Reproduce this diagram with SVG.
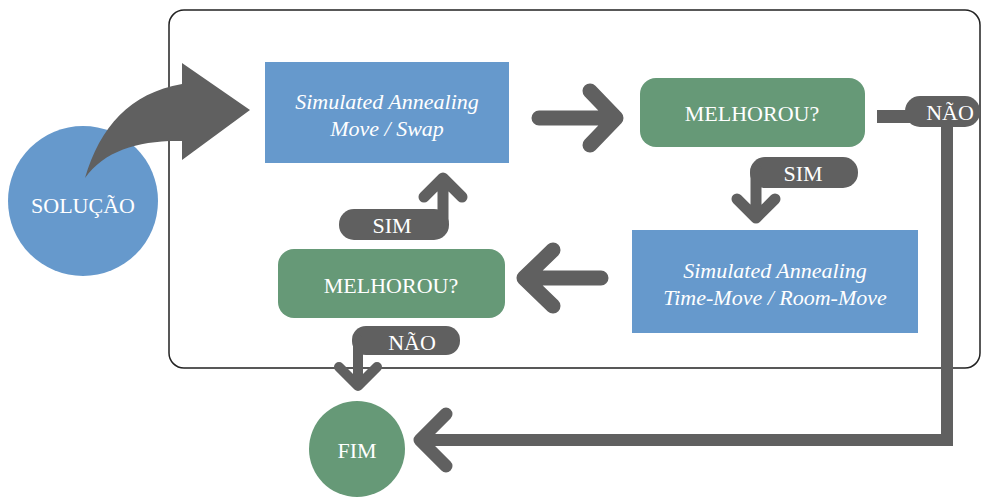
<svg xmlns="http://www.w3.org/2000/svg" width="988" height="498" viewBox="0 0 988 498">
<style>
.blue{fill:#6699cc}
.green{fill:#669977}
.gfill{fill:#606060}
.ln{fill:none;stroke:#606060;stroke-linecap:round;stroke-linejoin:round}
.t{font-family:"Liberation Serif","Times New Roman",serif;font-size:22px;fill:#ffffff;text-anchor:middle}
.it{font-style:italic}
</style>
<rect width="988" height="498" fill="#ffffff"/>
<rect id="frame" x="169" y="10" width="811" height="358" rx="15" fill="none" stroke="#222222" stroke-width="1.5"/>
<g id="solucao">
<circle cx="83" cy="201" r="75" class="blue"/>
<text class="t" x="83" y="213">SOLUÇÃO</text>
</g>
<g id="sa1">
<rect x="265" y="62" width="244" height="101" class="blue"/>
<text class="t it" x="387" y="109">Simulated Annealing</text>
<text class="t it" x="387" y="136">Move / Swap</text>
</g>
<g id="melhorou1">
<rect x="640" y="78" width="225" height="69" rx="16" class="green"/>
<text class="t" x="752" y="121">MELHOROU?</text>
</g>
<g id="sa2">
<rect x="632" y="230" width="286" height="103" class="blue"/>
<text class="t it" x="775" y="278">Simulated Annealing</text>
<text class="t it" x="775" y="305">Time-Move / Room-Move</text>
</g>
<g id="melhorou2">
<rect x="278" y="249" width="227" height="69" rx="16" class="green"/>
<text class="t" x="391" y="293">MELHOROU?</text>
</g>
<g id="fim">
<circle cx="357" cy="449" r="48" class="green"/>
<text class="t" x="357" y="458">FIM</text>
</g>
<g id="connectors">
<path class="gfill" d="M85,178 C100,127 130,93 182,84 L182,63 L250,110 L182,160 L182,141 C140,140 105,150 85,178 Z"/>
<path class="ln" stroke-width="15" d="M539,118 L612,118 M590,91 L616,118 L590,145"/>
<path class="ln" stroke-width="15" d="M601,278 L525,278 M553,250 L524,278 L553,306"/>
<rect x="750" y="157" width="108" height="31" rx="15" class="gfill"/>
<path class="ln" stroke-width="11" d="M756,170 L756,217 M737,199 L756,218 L775,199"/>
<text class="t" x="803" y="181">SIM</text>
<rect x="339" y="209" width="110" height="31" rx="15" class="gfill"/>
<path class="ln" stroke-width="11" d="M443,222 L443,180 M424,197 L443,178 L462,197"/>
<text class="t" x="392" y="233">SIM</text>
<rect x="352" y="326" width="108" height="29" rx="14" class="gfill"/>
<path class="ln" stroke-width="10" d="M358,340 L358,386 M339,367 L358,386 L377,367"/>
<text class="t" x="412" y="350">NÃO</text>
<rect x="877" y="110" width="34" height="13" class="gfill"/>
<rect x="905" y="96" width="75" height="31" rx="15" class="gfill"/>
<path fill="none" stroke="#606060" stroke-width="12" stroke-linejoin="miter" d="M947,120 L947,440 L424,440"/>
<path class="ln" stroke-width="13" d="M446,414 L420,440 L446,466"/>
<text class="t" x="950" y="120">NÃO</text>
</g>
</svg>
